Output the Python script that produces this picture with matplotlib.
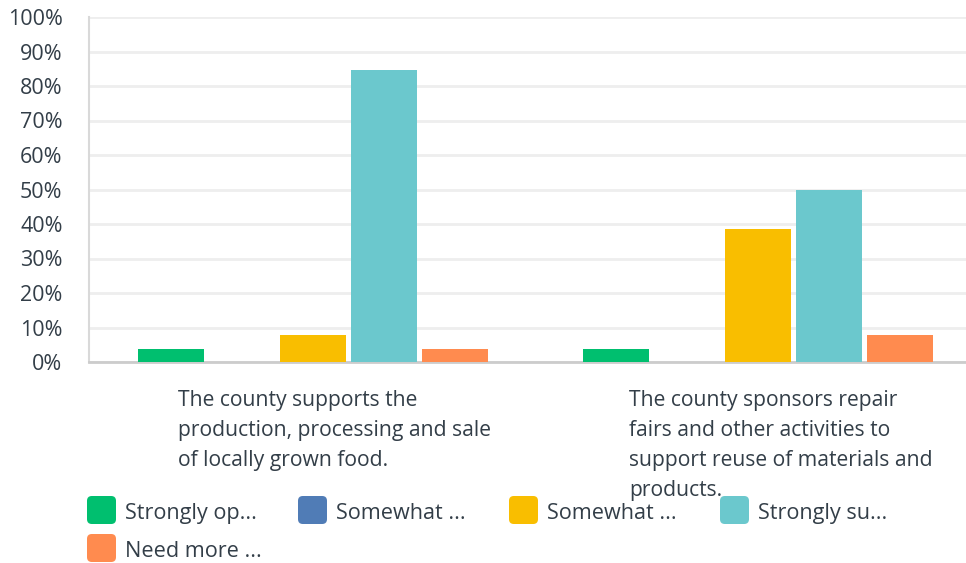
import matplotlib
matplotlib.use("Agg")
import matplotlib.pyplot as plt
import matplotlib.transforms as mtransforms
from matplotlib.patches import FancyBboxPatch
import numpy as np

plt.rcParams['font.family'] = ['Open Sans', 'DejaVu Sans']

categories = ["The county supports the\nproduction, processing and sale\nof locally grown food.",
              "The county sponsors repair\nfairs and other activities to\nsupport reuse of materials and\nproducts."]
series_names = ["Strongly op...", "Somewhat ...", "Somewhat ...", "Strongly su...", "Need more ..."]
strongly_oppose = [3.85, 3.85]
somewhat_oppose = [0.0, 0.0]
somewhat_support = [7.69, 38.46]
strongly_support = [84.62, 50.0]
need_more_info = [3.85, 7.69]
colors = ["#00bf6f", "#507cb6", "#f9be00", "#6bc8cd", "#ff8b4f"]
yticks = [0, 10, 20, 30, 40, 50, 60, 70, 80, 90, 100]
ytick_labels = [f"{v}%" for v in yticks]

series = [strongly_oppose, somewhat_oppose, somewhat_support, strongly_support, need_more_info]

W, H = 966, 563
fig = plt.figure(figsize=(W / 100, H / 100), dpi=100)
ax = fig.add_axes([89 / W, (H - 362) / H, (966 - 89) / W, (362 - 17) / H])

x = np.arange(len(categories))
step = 71 / 445
width = 66 / 445
for i, (vals, c) in enumerate(zip(series, colors)):
    ax.bar(x + (i - 2) * step, vals, width=width, color=c, zorder=3)

ax.set_xlim((89 - 313) / 445, (966 - 313) / 445)
ax.set_ylim(0, 100)
ax.set_yticks(yticks)
ax.set_yticklabels(ytick_labels, fontsize=15.5, color="#333e48")
ax.tick_params(axis='y', length=0, pad=19)
ax.set_xticks([])
ax.grid(axis='y', color="#eeeeee", linewidth=2, zorder=0)
for s in ['top', 'right']:
    ax.spines[s].set_visible(False)
ax.spines['left'].set_color("#d9d9d9")
ax.spines['left'].set_linewidth(1.5)
ax.spines['bottom'].set_color("#cccccc")
ax.spines['bottom'].set_linewidth(2)

# category labels
trans = mtransforms.blended_transform_factory(ax.transData, fig.transFigure)
label_offsets = [-135 / 445, -129 / 445]
for xi, lab, off in zip(x, categories, label_offsets):
    ax.text(xi + off, 1 - 390 / H, lab, ha='left', va='top', fontsize=15.2,
            color="#333e48", linespacing=1.56, transform=trans, clip_on=False)

# legend
lx = [87, 298, 509, 720, 87]
ly = [496, 496, 496, 496, 534]
for name, c, px, py in zip(series_names, colors, lx, ly):
    box = FancyBboxPatch((px / W, 1 - (py + 28) / H), 29 / W, 28 / H,
                         boxstyle="round,pad=0,rounding_size=0.005",
                         transform=fig.transFigure, facecolor=c, edgecolor='none',
                         mutation_aspect=W / H)
    fig.patches.append(box)
    fig.text((px + 38) / W, 1 - (py + 23) / H, name, ha='left', va='baseline',
             fontsize=15.6, color="#333e48")

fig.savefig("out.png", dpi=100, facecolor="white")
